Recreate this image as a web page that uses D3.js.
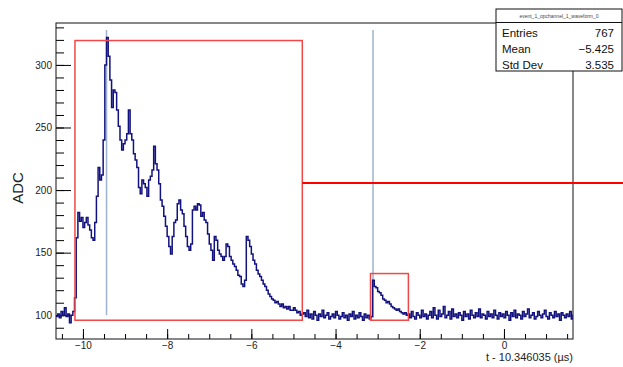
<!DOCTYPE html>
<html>
<head>
<meta charset="utf-8">
<script src="https://cdnjs.cloudflare.com/ajax/libs/d3/7.8.5/d3.min.js"></script>
<style>
  body { margin: 0; background: #fff; }
  svg { font-family: "Liberation Sans", Arial, sans-serif; }
</style>
</head>
<body>
<div id="chart"></div>
<script>

// histogram binning (µs, relative to t - 10.346035)
let binStart = -10.64
let binWidth = 0.04

// ADC values, bin by bin
let adcPre = [99, 101, 98, 103, 100, 106, 99, 101, 94, 100, 103]

let adcPulse = [114, 162, 182, 175, 178, 170, 174, 178, 172, 168, 162, 160, 174, 195, 218, 208,
    212, 240, 300, 322, 307, 288, 266, 280, 278, 264, 251, 240, 232, 237, 240, 245, 264, 245,
    240, 229, 224, 218, 202, 197, 208, 205, 202, 195, 208, 211, 216, 235, 221, 216, 205, 192,
    187, 179, 171, 163, 155, 149, 163, 174, 176, 189, 192, 184, 181, 171, 163, 155, 152, 157,
    184, 187, 184, 189, 188, 179, 182, 176, 174, 165, 157, 152, 144, 163, 160, 152, 149, 147,
    144, 147, 157, 155, 147, 144, 141, 139, 136, 132, 131, 125, 123, 128, 163, 160, 155, 149,
    144, 141, 136, 133, 131, 128, 125, 123, 120, 117, 115, 113, 112, 110, 111, 109, 107, 109,
    106, 107, 105, 107, 104, 104, 106, 104, 102, 103, 100, 101]

let adcBaseline1 = [102, 99, 104, 98, 101, 97, 103, 100, 96, 101, 99, 104, 98, 100, 102, 97, 99,
    101, 98, 103, 100, 97, 99, 102, 98, 100, 96, 101, 99, 103, 97, 100, 98, 102, 99, 96, 101,
    98, 100, 97, 99]

let adcSecondPulse = [128, 123, 122, 119, 118, 116, 113, 112, 110, 111, 109, 107, 106, 105, 104,
    105, 103, 102, 101, 102, 100]

let adcBaseline2 = [101, 98, 103, 99, 97, 102, 100, 98, 104, 99, 101, 97, 100, 103, 98, 106, 100,
    97, 104, 99, 101, 107, 98, 100, 103, 97, 105, 99, 101, 98, 102, 100, 96, 103, 99, 101, 97,
    104, 100, 98, 102, 99, 105, 98, 101, 100, 97, 103, 99, 101, 98, 104, 100, 97, 102, 99, 101,
    98, 103, 100, 96, 102, 99, 104, 98, 101, 100, 97, 103, 99, 101, 105, 98, 100, 102, 97, 99,
    103, 100, 98, 101, 104, 99, 97, 102, 100, 98, 103, 99, 101, 96, 102, 100, 98, 101, 99, 103,
    97, 100]

// selection boxes and markers, in data coordinates
let pulseBoxes = [
    {x0: -10.19, x1: -4.79, y0: 96, y1: 319.5},
    {x0: -3.17, x1: -2.27, y0: 96, y1: 133.3}
]
let peakMarkers = [
    {t: -9.44, y0: 100, y1: 328},
    {t: -3.11, y0: 98, y1: 328}
]
let thresholdLine = {x0: -4.79, x1: 2.83, y: 205.6}

let xMajorTicks = [-10, -8, -6, -4, -2, 0]
let xMinorTicks = d3.range(-10.5, 1.6, 0.5)
let yMajorTicks = [100, 150, 200, 250, 300]
let yMinorTicks = d3.range(90, 331, 10)

let statsTitle = "event_1_opchannel_1_waveform_0"
let statsRows = [["Entries", "767"], ["Mean", "\u22125.425"], ["Std Dev", "3.535"]]

let adc = adcPre.concat(adcPulse, adcBaseline1, adcSecondPulse, adcBaseline2)
let bins = adc.map(function(v, i){ return {t: binStart + i * binWidth, v: v} })
bins.push({t: binStart + adc.length * binWidth, v: adc[adc.length - 1]})

let frame = {left: 56, right: 573, top: 23, bottom: 339}

let svg = d3.select('#chart')
    .append('svg')
        .attr('width', 623)
        .attr('height', 367)

let x = d3.scaleLinear()
    .domain([-10.64, 1.64])
    .range([frame.left, frame.right])

let y = d3.scaleLinear()
    .domain([81, 333.5])
    .range([frame.bottom, frame.top])

svg.append('clipPath').attr('id', 'frame-clip')
    .append('rect')
        .attr('x', frame.left).attr('y', frame.top)
        .attr('width', frame.right - frame.left).attr('height', frame.bottom - frame.top)

//X-AXIS
svg.append('g')
    .attr('transform', `translate(0, ${frame.bottom})`)
    .call(d3.axisBottom(x).tickValues(xMinorTicks).tickSize(-5).tickFormat(''))
    .call(g => g.select('.domain').remove())

svg.append('g')
    .attr('transform', `translate(0, ${frame.bottom})`)
    .call(d3.axisBottom(x).tickValues(xMajorTicks).tickSize(-10).tickPadding(3))
    .call(g => g.select('.domain').remove())
    .attr('font-size', 10)
    .attr('font-family', null)

//Y-AXIS
svg.append('g')
    .attr('transform', `translate(${frame.left}, 0)`)
    .call(d3.axisLeft(y).tickValues(yMinorTicks).tickSize(-8).tickFormat(''))
    .call(g => g.select('.domain').remove())

svg.append('g')
    .attr('transform', `translate(${frame.left}, 0)`)
    .call(d3.axisLeft(y).tickValues(yMajorTicks).tickSize(-15).tickPadding(4))
    .call(g => g.select('.domain').remove())
    .attr('font-size', 10)
    .attr('font-family', null)

svg.selectAll('.tick text').attr('fill', '#222')

// frame
svg.append('rect')
    .attr('x', frame.left).attr('y', frame.top)
    .attr('width', frame.right - frame.left).attr('height', frame.bottom - frame.top)
    .attr('fill', 'none')
    .attr('stroke', '#111')
    .attr('stroke-width', 1)

// axis titles
svg.append('text')
    .attr('x', frame.right)
    .attr('y', 361)
    .attr('text-anchor', 'end')
    .attr('font-size', 11)
    .attr('fill', '#222')
    .text('t - 10.346035 (\u00b5s)')

svg.append('text')
    .attr('transform', 'translate(23, 188) rotate(-90)')
    .attr('text-anchor', 'middle')
    .attr('font-size', 15)
    .attr('fill', '#222')
    .text('ADC')

let plot = svg.append('g').attr('clip-path', 'url(#frame-clip)')

// peak markers
plot.selectAll('.peak')
    .data(peakMarkers)
    .enter()
    .append('line')
        .attr('x1', d => x(d.t)).attr('x2', d => x(d.t))
        .attr('y1', d => y(d.y0)).attr('y2', d => y(d.y1))
        .attr('stroke', '#9fb2cf')
        .attr('stroke-width', 1.5)

// waveform
plot.append('path')
    .datum(bins)
    .attr('d', d3.line().x(d => x(d.t)).y(d => y(d.v)).curve(d3.curveStepAfter))
    .attr('fill', 'none')
    .attr('stroke', '#12127e')
    .attr('stroke-width', 1.5)

// pulse boxes
svg.selectAll('.pulse-box')
    .data(pulseBoxes)
    .enter()
    .append('rect')
        .attr('x', d => x(d.x0))
        .attr('y', d => y(d.y1))
        .attr('width', d => x(d.x1) - x(d.x0))
        .attr('height', d => y(d.y0) - y(d.y1))
        .attr('fill', 'none')
        .attr('stroke', '#f04848')
        .attr('stroke-width', 1.5)

svg.append('line')
    .attr('x1', x(thresholdLine.x0)).attr('x2', x(thresholdLine.x1))
    .attr('y1', y(thresholdLine.y)).attr('y2', y(thresholdLine.y))
    .attr('stroke', '#ff0000')
    .attr('stroke-width', 2)

// stats box
let stats = svg.append('g')
stats.append('rect')
    .attr('x', 496).attr('y', 9)
    .attr('width', 126).attr('height', 62)
    .attr('fill', '#fff')
    .attr('stroke', '#111')
    .attr('stroke-width', 1)
stats.append('line')
    .attr('x1', 496).attr('x2', 622)
    .attr('y1', 22.5).attr('y2', 22.5)
    .attr('stroke', '#111')
stats.append('text')
    .attr('x', 559).attr('y', 18)
    .attr('text-anchor', 'middle')
    .attr('font-size', 5)
    .attr('fill', '#444')
    .text(statsTitle)
statsRows.forEach(function(row, i){
    stats.append('text')
        .attr('x', 502).attr('y', 36.5 + i * 16)
        .attr('font-size', 11.5)
        .attr('fill', '#111')
        .text(row[0])
    stats.append('text')
        .attr('x', 614).attr('y', 36.5 + i * 16)
        .attr('text-anchor', 'end')
        .attr('font-size', 11.5)
        .attr('fill', '#111')
        .text(row[1])
})

</script>
</body>
</html>
